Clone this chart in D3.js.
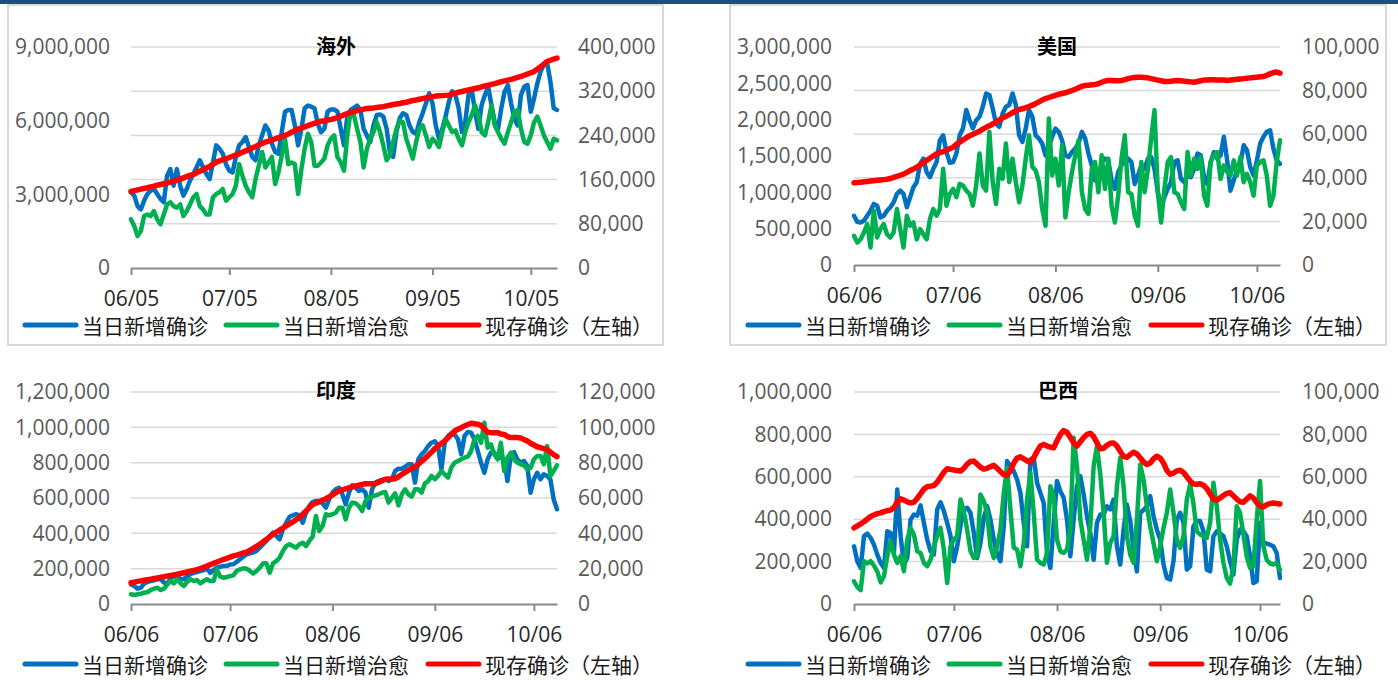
<!DOCTYPE html>
<html><head><meta charset="utf-8">
<script src="https://cdn.jsdelivr.net/npm/d3@7"></script>
<style>
body{margin:0;background:#fff;}
svg{display:block;}
</style></head><body>
<svg id="c" width="1398" height="680"></svg>
<script>
// ---- DATA (daily; confirmed / cured in thousands per day, active in thousands) ----
const seriesNames = ["当日新增确诊", "当日新增治愈", "现存确诊（左轴）"];

const overseasStart = "2020-06-05";
const overseasConfirmed = [137,131,112,106,122,134,140,143,134,125,119,167,179,149,179,149,131,143,158,170,182,195,182,170,161,191,222,216,207,188,176,173,201,222,228,237,219,201,195,222,240,258,249,225,210,207,246,283,286,286,258,222,252,289,294,292,289,261,246,252,283,287,287,283,252,222,274,286,290,294,286,252,240,228,258,277,278,274,252,210,201,246,271,280,277,258,246,243,264,280,298,316,298,258,234,252,274,301,320,313,289,246,264,313,322,283,252,295,313,328,295,264,252,289,319,331,298,270,258,313,328,331,283,307,334,356,368,371,337,289,286];
const overseasCured = [88,76,58,67,94,97,94,103,88,79,97,115,119,112,109,115,94,103,115,128,134,112,106,97,97,128,134,137,143,122,128,134,149,188,167,149,137,128,161,185,210,182,191,201,152,173,204,234,188,191,188,134,179,216,243,228,185,185,191,198,222,234,240,201,191,176,240,283,277,252,228,182,216,234,246,264,246,222,195,204,228,252,267,264,234,216,198,228,252,258,240,219,234,228,219,246,270,258,246,249,234,222,246,264,277,295,277,246,240,264,294,258,246,234,225,246,264,283,286,252,228,225,240,264,274,258,240,228,216,234,231];
const overseasActive = [3120,3150,3180,3210,3240,3270,3300,3330,3370,3400,3430,3460,3500,3540,3580,3620,3670,3720,3770,3810,3880,3940,4000,4070,4140,4220,4310,4360,4410,4450,4500,4550,4600,4650,4710,4770,4830,4890,4950,5010,5070,5130,5170,5220,5260,5310,5350,5400,5460,5530,5600,5660,5700,5750,5800,5850,5890,5950,5980,6000,6030,6050,6080,6130,6180,6240,6290,6340,6370,6410,6440,6470,6500,6510,6520,6540,6560,6570,6600,6630,6660,6680,6700,6730,6750,6790,6820,6840,6870,6900,6930,6960,6980,7000,7010,7020,7030,7040,7080,7120,7160,7190,7220,7250,7280,7310,7340,7380,7410,7440,7480,7510,7550,7590,7620,7650,7680,7720,7760,7800,7850,7900,7950,8000,8100,8200,8300,8410,8460,8510,8550];

const usStart = "2020-06-06";
const usConfirmed = [22.6,19.8,19.5,20.3,22.6,24.9,28.0,27.2,21.8,22.6,24.9,26.5,28.8,32.6,34.1,32.6,26.5,31.1,35.7,38.0,46.4,48.8,42.6,40.3,44.1,47.2,57.2,59.5,51.8,46.9,47.2,51.1,59.5,62.6,71.1,66.4,62.6,66.4,68.0,72.6,78.7,78.0,71.8,64.9,63.4,69.5,72.6,73.4,78.7,73.4,59.5,56.4,62.6,71.1,68.0,59.5,58.0,55.7,50.3,54.9,58.8,62.6,61.1,57.2,50.3,49.5,51.8,53.4,55.7,61.1,58.0,51.1,45.7,38.8,39.5,47.2,48.8,48.0,38.8,34.9,42.6,45.7,48.0,48.8,47.2,37.2,41.1,45.7,44.1,48.8,49.5,44.1,33.4,27.2,31.1,34.9,38.0,47.2,48.0,39.5,38.0,41.1,40.3,44.1,51.1,50.3,40.3,37.2,47.2,51.8,48.8,50.3,58.8,48.0,34.1,38.8,43.4,46.4,54.9,52.6,44.9,41.1,48.0,55.7,58.8,61.1,61.8,53.4,48.0,46.4];
const usCured = [13.4,10.3,11.8,14.9,18.8,8.0,24.9,12.6,16.5,18.8,14.1,12.6,14.9,25.7,16.5,8.0,22.6,18.0,19.5,11.8,16.5,14.1,11.8,21.1,25.7,22.6,25.7,44.1,27.2,32.6,34.9,31.1,37.2,36.5,34.1,32.6,27.2,36.5,51.1,36.5,34.1,61.1,38.0,28.0,44.1,39.5,55.7,38.0,48.8,38.0,28.8,36.5,48.8,59.5,45.1,43.4,38.0,25.7,18.0,67.2,41.1,48.8,36.5,54.9,21.8,33.4,42.6,50.3,57.2,33.4,25.7,23.4,44.1,47.2,33.4,50.3,34.9,48.8,27.2,19.5,31.8,48.8,59.5,33.4,32.6,22.6,18.0,47.2,33.4,44.1,58.0,71.1,33.4,19.5,34.9,47.2,49.5,33.4,32.6,28.8,25.7,51.8,41.1,48.8,44.1,49.5,31.8,27.2,47.2,50.3,51.8,39.5,45.7,42.6,41.1,48.0,41.1,49.5,38.0,41.8,38.0,31.8,45.7,47.2,48.0,41.1,27.2,31.8,47.2,57.2];
const usActive = [1131,1135,1140,1145,1150,1155,1160,1165,1170,1175,1180,1190,1205,1220,1235,1250,1275,1300,1320,1345,1375,1410,1440,1470,1500,1530,1545,1560,1580,1600,1620,1660,1690,1720,1750,1780,1800,1820,1840,1870,1895,1915,1940,1965,1995,2025,2045,2070,2095,2120,2140,2150,2165,2180,2200,2220,2245,2270,2290,2305,2320,2335,2350,2360,2370,2385,2400,2420,2440,2460,2470,2475,2480,2485,2495,2515,2530,2540,2540,2535,2535,2540,2550,2565,2575,2580,2585,2585,2580,2575,2565,2555,2545,2535,2525,2525,2530,2535,2540,2535,2530,2525,2520,2515,2525,2535,2545,2545,2548,2548,2545,2545,2545,2540,2545,2550,2555,2560,2565,2570,2575,2580,2585,2590,2595,2610,2630,2650,2655,2640];

const indiaStart = "2020-06-06";
const indiaConfirmed = [11.1,10.2,8.7,9.2,11.7,12.5,13.0,13.4,14.0,14.0,12.1,11.7,14.3,15.8,14.9,14.3,14.0,15.8,16.8,17.7,18.1,18.7,19.2,20.0,17.7,19.2,20.6,21.1,21.5,21.5,22.3,22.5,23.8,25.3,26.8,28.1,28.7,29.1,30.0,31.9,33.8,35.7,38.5,40.4,38.5,36.6,42.3,46.0,49.4,50.2,50.8,50.2,46.0,51.7,55.5,57.7,58.3,58.3,57.0,54.5,59.2,63.0,64.9,65.8,62.1,56.4,63.0,67.2,65.8,64.0,64.9,63.0,54.5,64.9,68.7,69.6,70.2,70.6,69.6,70.6,75.3,76.6,76.6,77.7,79.1,79.1,68.7,81.9,84.7,86.6,89.4,91.3,92.1,89.4,76.2,91.3,95.1,96.6,96.0,93.2,84.7,95.1,97.4,97.0,93.2,86.6,80.0,74.3,81.9,85.7,85.7,82.8,82.8,81.9,69.6,83.8,86.0,81.9,80.0,80.9,78.1,63.0,70.6,74.3,70.6,73.4,72.5,70.6,59.2,53.6];
const indiaCured = [5.5,5.1,5.5,5.8,6.4,6.8,7.9,8.7,9.2,7.9,8.7,11.1,13.0,11.7,14.0,11.7,10.2,12.5,14.0,13.0,13.6,11.7,13.0,14.0,13.0,13.0,19.6,15.5,14.9,15.3,15.8,16.2,18.7,19.6,20.2,20.0,18.7,17.2,18.7,20.6,23.0,23.0,17.7,23.0,24.3,26.2,30.0,32.8,33.8,32.8,31.9,33.8,34.7,32.8,35.7,38.1,49.8,41.3,44.1,50.8,50.2,50.8,51.7,54.5,54.5,47.9,54.5,57.4,57.0,55.5,52.6,58.3,60.2,60.8,61.5,62.1,63.0,63.4,57.4,60.2,62.6,55.8,62.1,64.9,62.1,60.8,64.9,64.9,63.0,68.3,69.6,72.5,70.6,72.5,75.3,73.4,71.5,77.2,80.0,80.9,81.9,82.8,83.4,86.6,93.2,95.1,91.3,102.6,88.5,90.4,84.7,81.9,91.3,75.3,82.8,85.7,81.9,80.0,79.1,78.5,76.2,77.0,81.9,83.8,83.8,79.1,89.4,72.5,75.3,78.5];
const indiaActive = [121,124,128,131,134,137,140,144,147,151,154,158,161,165,169,173,177,181,186,190,195,200,208,215,223,230,238,245,252,258,265,272,277,283,289,294,304,315,326,337,352,366,380,394,406,418,430,442,454,465,477,489,508,527,545,563,571,579,588,596,607,618,629,640,646,652,658,664,668,672,677,681,681,681,681,690,698,706,707,708,709,720,734,745,756,766,777,792,808,823,841,860,879,894,909,923,942,960,979,989,998,1008,1016,1023,1020,1018,1010,990,972,970,970,970,962,960,948,942,942,942,940,930,923,910,900,890,885,880,875,860,845,834];

const brazilStart = "2020-06-06";
const brazilConfirmed = [27.2,20.2,17.0,32.0,33.2,31.2,28.0,23.3,19.4,17.0,34.3,33.5,24.1,54.0,32.0,18.6,21.7,39.8,42.2,41.7,46.5,38.3,30.4,24.9,23.3,44.6,48.0,43.8,38.3,32.0,20.2,27.2,37.0,44.6,45.4,43.0,33.5,21.7,28.8,40.6,46.1,39.8,30.4,23.3,20.2,36.7,67.4,65.0,62.7,58.7,52.4,38.3,27.2,68.2,69.0,57.2,52.4,47.7,24.1,17.0,38.3,58.0,53.2,50.1,39.8,22.5,39.8,55.6,60.3,51.7,41.4,33.5,20.9,38.3,42.2,42.2,46.1,44.6,49.3,27.2,18.6,35.1,46.9,39.1,25.7,15.4,43.0,44.3,46.1,50.9,41.4,35.1,30.4,18.6,12.3,11.5,20.2,39.8,43.0,38.3,16.2,17.8,36.7,39.1,39.1,34.3,16.2,15.4,32.0,34.3,33.2,32.0,27.2,20.2,13.9,30.4,35.1,34.3,32.0,22.5,9.9,10.7,38.3,28.8,28.5,28.0,27.2,24.1,12.3];
const brazilCured = [10.7,8.0,6.5,20.2,19.1,20.2,18.1,15.4,10.2,13.1,22.5,29.6,23.3,19.4,22.5,15.4,30.4,35.9,32.8,24.9,24.1,19.4,17.8,20.9,27.2,32.0,35.9,25.7,9.9,27.2,30.4,32.0,49.3,43.8,35.1,24.9,21.7,22.5,51.7,48.6,43.0,27.2,21.7,27.2,35.1,52.4,64.3,44.6,26.5,25.7,17.8,28.8,49.3,61.9,43.0,20.9,19.4,18.6,24.1,55.6,50.9,30.4,24.9,24.1,25.7,35.1,78.4,65.0,39.8,30.4,20.9,36.7,65.0,74.5,61.1,43.0,19.4,28.8,32.0,55.6,69.0,55.6,32.0,23.3,19.4,39.8,65.8,58.7,46.1,36.7,28.8,20.2,27.2,35.9,43.0,54.0,43.0,30.4,26.5,32.0,49.3,56.4,47.2,34.3,32.8,32.0,31.2,38.3,57.2,46.1,30.4,19.4,12.3,9.6,17.8,46.1,43.0,32.8,22.5,17.0,17.8,39.8,58.0,27.2,20.9,19.1,18.6,19.4,16.2];
const brazilActive = [359,368,378,388,400,413,420,426,430,436,440,443,455,480,496,490,482,477,480,498,520,542,553,556,559,575,598,622,638,635,632,630,627,640,660,672,674,660,645,636,640,648,654,640,625,610,606,630,665,688,694,685,675,669,690,720,745,753,745,740,737,770,800,818,810,785,760,745,765,785,800,805,790,760,732,735,748,758,760,745,720,695,692,705,716,708,690,670,658,665,685,697,688,665,630,612,618,628,631,620,600,580,566,565,567,560,545,520,495,490,500,512,522,525,510,495,482,480,495,510,500,478,462,458,468,474,476,474,472];

// ticks
const overseasXTicks = ["06/05","07/05","08/05","09/05","10/05"];
const otherXTicks = ["06/06","07/06","08/06","09/06","10/06"];
const overseasLeftTicks = [0,3000000,6000000,9000000];
const overseasRightTicks = [0,80000,160000,240000,320000,400000];
const usLeftTicks = [0,500000,1000000,1500000,2000000,2500000,3000000];
const usRightTicks = [0,20000,40000,60000,80000,100000];
const indiaLeftTicks = [0,200000,400000,600000,800000,1000000,1200000];
const indiaRightTicks = [0,20000,40000,60000,80000,100000,120000];
const brazilLeftTicks = [0,200000,400000,600000,800000,1000000];
const brazilRightTicks = [0,20000,40000,60000,80000,100000];

// ---- LAYOUT ----
const panels = [
  {title:"海外", start:overseasStart, c:overseasConfirmed, r:overseasCured, a:overseasActive,
   lt:overseasLeftTicks, rt:overseasRightTicks, xt:overseasXTicks,
   plot:{l:131,r:557,t:47,b:268}, lx:110, rx:578, tx:336, ty:45, ly:325, lgx:23, box:[8,5,663,345]},
  {title:"美国", start:usStart, c:usConfirmed, r:usCured, a:usActive,
   lt:usLeftTicks, rt:usRightTicks, xt:otherXTicks,
   plot:{l:854,r:1280,t:47,b:265}, lx:832, rx:1302, tx:1057, ty:45, ly:325, lgx:746, box:[730,5,1386,345]},
  {title:"印度", start:indiaStart, c:indiaConfirmed, r:indiaCured, a:indiaActive,
   lt:indiaLeftTicks, rt:indiaRightTicks, xt:otherXTicks,
   plot:{l:131,r:557,t:392,b:604}, lx:110, rx:578, tx:336, ty:389, ly:664, lgx:23, box:null},
  {title:"巴西", start:brazilStart, c:brazilConfirmed, r:brazilCured, a:brazilActive,
   lt:brazilLeftTicks, rt:brazilRightTicks, xt:otherXTicks,
   plot:{l:854,r:1280,t:392,b:604}, lx:832, rx:1302, tx:1058, ty:389, ly:664, lgx:746, box:null}
];
const colors = ["#0070C0","#00B050","#FF0000"];
const widths = [4.5,4.5,5.5];
const CJK = '"Noto Sans CJK SC",sans-serif';
const NUM = '"Open Sans","Noto Sans",sans-serif';
const fmt = d3.format(",");
const parseDay = d3.timeParse("%Y-%m-%d");
const parseTick = d3.timeParse("%Y/%m/%d");

const svg = d3.select("#c");
svg.append("rect").attr("x",0).attr("y",0).attr("width",1398).attr("height",4).attr("fill","#1f4e79");

panels.forEach(p => {
  const g = svg.append("g");
  if (p.box) g.append("rect").attr("x",p.box[0]).attr("y",p.box[1])
     .attr("width",p.box[2]-p.box[0]).attr("height",p.box[3]-p.box[1])
     .attr("fill","none").attr("stroke","#d9d9d9").attr("stroke-width",2);
  const start = parseDay(p.start);
  const n = p.c.length;
  const x = d3.scaleTime().domain([start, d3.timeDay.offset(start, n-1)]).range([p.plot.l, p.plot.r]);
  const yL = d3.scaleLinear().domain([0, d3.max(p.lt)]).range([p.plot.b, p.plot.t]);
  const yR = d3.scaleLinear().domain([0, d3.max(p.rt)]).range([p.plot.b, p.plot.t]);

  // gridlines (follow right axis)
  g.append("g").selectAll("line").data(p.rt.filter(v=>v>0)).join("line")
    .attr("x1",p.plot.l).attr("x2",p.plot.r)
    .attr("y1",d=>yR(d)).attr("y2",d=>yR(d))
    .attr("stroke","#d9d9d9").attr("stroke-width",1.5);

  // left axis labels
  const la = g.append("g").attr("transform",`translate(${p.lx},0)`)
    .call(d3.axisLeft(yL).tickValues(p.lt).tickSize(0).tickPadding(0).tickFormat(fmt));
  la.select(".domain").remove();
  la.attr("font-family",NUM).attr("font-size",21);
  la.selectAll("text").attr("fill","#595959");

  // right axis labels
  const ra = g.append("g").attr("transform",`translate(${p.rx},0)`)
    .call(d3.axisRight(yR).tickValues(p.rt).tickSize(0).tickPadding(0).tickFormat(fmt));
  ra.select(".domain").remove();
  ra.attr("font-family",NUM).attr("font-size",21);
  ra.selectAll("text").attr("fill","#595959");

  // x axis
  const tickDates = p.xt.map(s => parseTick("2020/" + s));
  const xa = g.append("g").attr("transform",`translate(0,${p.plot.b})`)
    .call(d3.axisBottom(x).tickValues(tickDates).tickSize(7).tickSizeOuter(0).tickFormat(d3.timeFormat("%m/%d")));
  xa.attr("font-family",NUM).attr("font-size",21);
  xa.select(".domain").attr("stroke","#898989").attr("stroke-width",2);
  xa.selectAll(".tick line").attr("stroke","#898989").attr("stroke-width",2);
  xa.selectAll(".tick text").attr("fill","#262626").attr("y",31).attr("dy","0.35em");

  // series
  const mk = (scale) => d3.line().x((d,i)=>x(d3.timeDay.offset(start,i))).y(d=>scale(d*1000));
  const series = [[p.c, yR],[p.r, yR],[p.a, yL]];
  series.forEach((s,k)=>{
    g.append("path").attr("d", mk(s[1])(s[0])).attr("fill","none")
      .attr("stroke",colors[k]).attr("stroke-width",widths[k])
      .attr("stroke-linejoin","round").attr("stroke-linecap","round");
  });

  // title
  g.append("text").attr("x",p.tx).attr("y",p.ty).attr("text-anchor","middle")
    .attr("dominant-baseline","central").attr("font-family",CJK).attr("font-size",20)
    .attr("font-weight","bold").attr("fill","#000").text(p.title);

  // legend
  const offs = [0,201,403];
  seriesNames.forEach((nm,k)=>{
    const lx0 = p.lgx + offs[k];
    g.append("line").attr("x1",lx0+2).attr("x2",lx0+53).attr("y1",p.ly).attr("y2",p.ly)
      .attr("stroke",colors[k]).attr("stroke-width",5).attr("stroke-linecap","round");
    g.append("text").attr("x",lx0+59).attr("y",p.ly).attr("dominant-baseline","central")
      .attr("font-family",CJK).attr("font-size",21).attr("fill","#1a1a1a").text(nm);
  });
});
</script>
</body></html>
